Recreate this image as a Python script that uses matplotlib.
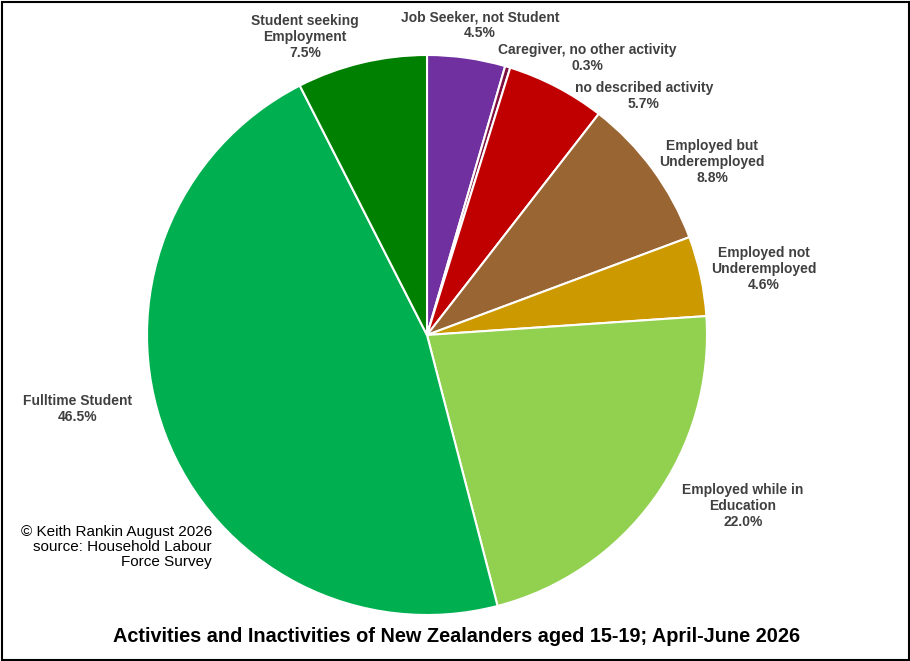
import matplotlib.pyplot as plt
from matplotlib.patches import Rectangle

plt.rcParams['font.family'] = ['Liberation Sans', 'DejaVu Sans']

labels = ["Job Seeker, not Student", "Caregiver, no other activity",
          "no described activity", "Employed but\nUnderemployed",
          "Employed not\nUnderemployed", "Employed while in\nEducation",
          "Fulltime Student", "Student seeking\nEmployment"]
values = [4.5, 0.3, 5.7, 8.8, 4.6, 22.0, 46.5, 7.5]
colors = ["#7030A0", "#7F0F3F", "#C00000", "#996633", "#CC9900",
          "#92D050", "#00B050", "#008000"]

# label centres in pixels (x, y from top)
label_pos = [(480, 25), (587, 58), (644, 96), (712, 162), (764, 269),
             (743, 506), (78, 409), (305, 37)]

W, H = 910, 661
fig = plt.figure(figsize=(W / 100, H / 100), dpi=100)
ax = fig.add_axes([(427 - 280) / W, (H - 615) / H, 560 / W, 560 / H])
ax.pie(values, colors=colors, startangle=90, counterclock=False,
       wedgeprops=dict(edgecolor="white", linewidth=1.5))
ax.set_xlim(-1, 1)
ax.set_ylim(-1, 1)
ax.set_aspect("equal")
ax.axis("off")

for lab, v, (px, py) in zip(labels, values, label_pos):
    fig.text(px / W, 1 - py / H, f"{lab}\n{v:.1f}%", ha="center", va="center",
             fontsize=10, fontweight="bold", color="#404040", linespacing=1.15)

fig.text(212 / W, 1 - 547 / H,
         "© Keith Rankin August 2026\nsource: Household Labour\nForce Survey",
         ha="right", va="center", fontsize=11, color="black", linespacing=1.1)

fig.text(457 / W, 1 - 637 / H,
         "Activities and Inactivities of New Zealanders aged 15-19; April-June 2026",
         ha="center", va="center", fontsize=14.3, fontweight="bold", color="black")

fig.patches.append(Rectangle((1.5 / W, 1.5 / H), 1 - 3 / W, 1 - 3 / H,
                             transform=fig.transFigure, fill=False,
                             edgecolor="black", linewidth=1.5))

fig.savefig("out.png", dpi=100)
